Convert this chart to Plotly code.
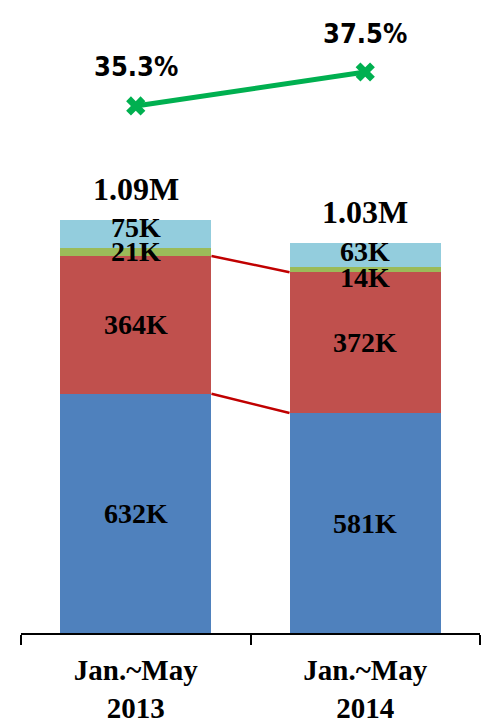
import plotly.graph_objects as go

categories = ["Jan.~May 2013", "Jan.~May 2014"]
tick_labels = ["<b>Jan.~May</b><br><b>2013</b>", "<b>Jan.~May</b><br><b>2014</b>"]
blue_vals = [632, 581]
red_vals = [364, 372]
green_vals = [21, 14]
aqua_vals = [75, 63]
pct_vals = [35.3, 37.5]
total_labels = ["1.09M", "1.03M"]

series = [
    ("blue", blue_vals, "#4F81BD"),
    ("red", red_vals, "#C0504D"),
    ("green", green_vals, "#9BBB59"),
    ("aqua", aqua_vals, "#93CDDD"),
]

BAR_W = 0.66
fig = go.Figure()
for name, vals, col in series:
    fig.add_trace(go.Bar(x=categories, y=vals, name=name, marker=dict(color=col, line=dict(width=0)),
                         width=BAR_W, hoverinfo="skip"))

fig.add_trace(go.Scatter(x=categories, y=pct_vals, yaxis="y2", mode="lines+markers",
                         line=dict(color="#00B050", width=5),
                         marker=dict(symbol="x", size=17, color="#00B050"), hoverinfo="skip"))

# connectors between bars
cum1 = blue_vals
cum2 = [b + r for b, r in zip(blue_vals, red_vals)]
for cum in (cum1, cum2):
    fig.add_shape(type="line", xref="x", yref="y",
                  x0=0 + BAR_W / 2, x1=1 - BAR_W / 2, y0=cum[0], y1=cum[1],
                  line=dict(color="#C00000", width=2.5))

serif = "Liberation Serif, Times New Roman, serif"
ann = []
label_shift = {("green", 1): -8, ("aqua", 0): 6, ("aqua", 1): 3}
for i, cat in enumerate(categories):
    base = 0
    for name, vals, col in series:
        v = vals[i]
        ann.append(dict(x=cat, y=base + v / 2, text=f"<b>{v}K</b>", showarrow=False,
                        yshift=label_shift.get((name, i), 0), borderpad=0,
                        font=dict(family=serif, size=28, color="black")))
        base += v
    ann.append(dict(x=cat, y=base, text=f"<b>{total_labels[i]}</b>", showarrow=False, yshift=31,
                    font=dict(family=serif, size=32, color="black")))
    ann.append(dict(x=cat, y=pct_vals[i], yref="y2", text=f"<b>{pct_vals[i]}%</b>", showarrow=False,
                    yshift=39,
                    font=dict(family="DejaVu Sans Condensed, Liberation Sans Narrow, Arial Narrow, Liberation Sans, sans-serif",
                              size=27, color="black")))

fig.update_layout(
    width=483, height=723,
    margin=dict(l=21, r=3, t=0, b=90),
    paper_bgcolor="white", plot_bgcolor="white",
    barmode="stack", showlegend=False,
    xaxis=dict(tickvals=categories, ticktext=tick_labels, tickson="boundaries",
               ticks="outside", ticklen=10, tickwidth=2, tickcolor="black",
               showline=True, linecolor="black", linewidth=2, showgrid=False,
               range=[-0.5, 1.5], ticklabelstandoff=10,
               tickfont=dict(family=serif, size=29, color="black")),
    yaxis=dict(range=[0, 1672], visible=False, showgrid=False, zeroline=False),
    yaxis2=dict(range=[1.19, 42.16], overlaying="y", visible=False, showgrid=False, zeroline=False),
    annotations=ann,
)
fig.write_html("out.html")
